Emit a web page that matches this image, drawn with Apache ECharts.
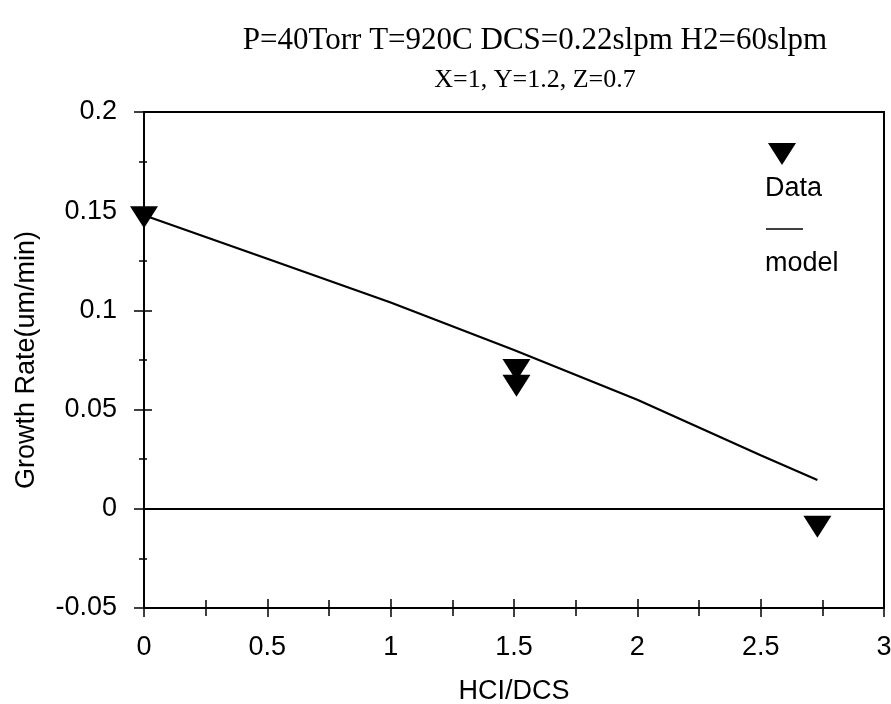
<!DOCTYPE html>
<html>
<head>
<meta charset="utf-8">
<script src="https://cdn.jsdelivr.net/npm/echarts@6/dist/echarts.min.js"></script>
<style>
  html, body { margin: 0; padding: 0; background: #fff; }
  #chart { width: 891px; height: 704px; }
</style>
</head>
<body>
<div id="chart"></div>
<script>
// data
const data_x = [0, 1.51, 1.51, 2.73];
const data_y = [0.147, 0.070, 0.062, -0.009];
const model_x = [0, 0.5, 1.0, 1.5, 2.0, 2.5, 2.73];
const model_y = [0.148, 0.126, 0.104, 0.080, 0.055, 0.027, 0.0145];
const title_1 = "P=40Torr T=920C DCS=0.22slpm H2=60slpm";
const title_2 = "X=1, Y=1.2, Z=0.7";

const sans = "Liberation Sans, Arial, sans-serif";
const serif = "Liberation Serif, Times New Roman, serif";

const plot_w = 740;
const plot_h = 496;

let myChart = echarts.init(document.getElementById('chart'));

// x轴: 主轴画外侧刻度; 第二条轴放在顶部再平移到底边, 刻度朝上 => 刻度穿过轴线
function makeX(inner){
    return {
        type: 'value',
        position: inner ? 'top' : 'bottom',
        offset: inner ? -plot_h : 0,
        min: 0, max: 3, interval: 0.5,
        axisLine: { show: !inner, onZero: false, lineStyle: { color: '#000', width: 2 } },
        axisTick: { show: true, length: 9, lineStyle: { color: '#000', width: 1.5 } },
        minorTick: { show: true, splitNumber: 2, length: 8, lineStyle: { color: '#000', width: 1.5 } },
        splitLine: { show: false },
        axisLabel: { show: !inner, color: '#000', fontFamily: sans, fontSize: 27, margin: 26 },
        name: inner ? '' : 'HCI/DCS',
        nameLocation: 'middle',
        nameGap: 70,
        nameTextStyle: { color: '#000', fontFamily: sans, fontSize: 27 }
    };
}
function makeY(inner){
    return {
        type: 'value',
        position: inner ? 'right' : 'left',
        offset: inner ? -plot_w : 0,
        min: -0.05, max: 0.2, interval: 0.05,
        axisLine: { show: !inner, onZero: false, lineStyle: { color: '#000', width: 2 } },
        axisTick: { show: true, length: inner ? 8 : 10, lineStyle: { color: '#000', width: 1.5 } },
        minorTick: { show: true, splitNumber: 2, length: inner ? 3 : 5, lineStyle: { color: '#000', width: 1.5 } },
        splitLine: { show: false },
        axisLabel: { show: !inner, color: '#000', fontFamily: sans, fontSize: 27, margin: 27 },
        name: inner ? '' : 'Growth Rate(um/min)',
        nameLocation: 'middle',
        nameGap: 104,
        nameTextStyle: { color: '#000', fontFamily: sans, fontSize: 27 }
    };
}

let option = {
    backgroundColor: '#fff',
    animation: false,
    title: [
        { text: title_1, left: 530, top: 20, textAlign: 'center',
          textStyle: { fontFamily: serif, fontSize: 31, fontWeight: 'normal', color: '#000' } },
        { text: title_2, left: 530, top: 62, textAlign: 'center',
          textStyle: { fontFamily: serif, fontSize: 26, fontWeight: 'normal', color: '#000' } }
    ],
    grid: {
        left: 144, top: 112, width: plot_w, height: plot_h,
        outerBoundsMode: 'none', containLabel: false,
        show: true, borderColor: '#000', borderWidth: 2, backgroundColor: 'transparent'
    },
    xAxis: [makeX(false), makeX(true)],
    yAxis: [makeY(false), makeY(true)],
    // 图例: 三角在文字上方
    graphic: [
        { type: 'polygon', shape: { points: [[768, 143], [796, 143], [782, 165]] },
          style: { fill: '#000' } },
        { type: 'text', x: 765, y: 175,
          style: { text: 'Data', font: '27px ' + sans, fill: '#000' } },
        { type: 'line', shape: { x1: 766, y1: 229, x2: 803, y2: 229 },
          style: { stroke: '#000', lineWidth: 1.5 } },
        { type: 'text', x: 765, y: 250,
          style: { text: 'model', font: '27px ' + sans, fill: '#000' } }
    ],
    series: [
        {
            name: 'model',
            type: 'line',
            data: model_x.map((x, i) => [x, model_y[i]]),
            showSymbol: false,
            smooth: false,
            lineStyle: { color: '#000', width: 2.2 },
            markLine: {
                silent: true,
                symbol: 'none',
                label: { show: false },
                lineStyle: { color: '#000', width: 2, type: 'solid' },
                data: [{ yAxis: 0 }]
            },
            z: 3
        },
        {
            name: 'Data',
            type: 'scatter',
            data: data_x.map((x, i) => [x, data_y[i]]),
            symbol: 'triangle',
            symbolRotate: 180,
            symbolSize: [28, 22],
            itemStyle: { color: '#000', opacity: 1 },
            z: 4
        }
    ]
};
myChart.setOption(option);
</script>
</body>
</html>
